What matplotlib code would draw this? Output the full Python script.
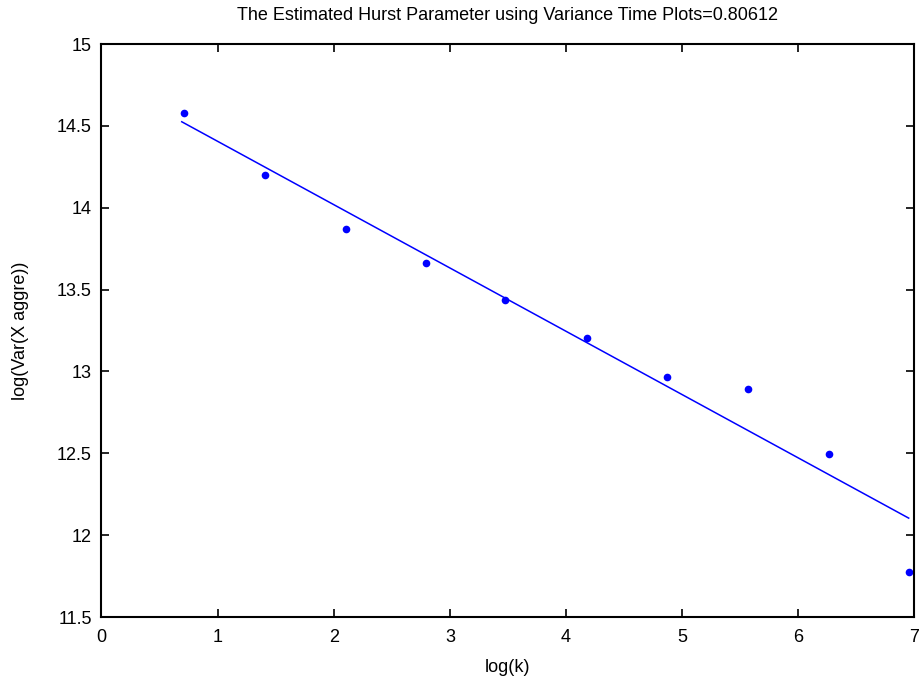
import numpy as np
import matplotlib
matplotlib.use("Agg")
import matplotlib.pyplot as plt

plt.rcParams['font.family'] = ['Liberation Sans', 'DejaVu Sans']

# data
log_k = [0.708, 1.406, 2.106, 2.798, 3.478, 4.176, 4.871, 5.569, 6.266, 6.955]
log_var = [14.578, 14.198, 13.872, 13.665, 13.438, 13.202, 12.968, 12.894, 12.494, 11.776]
fit_x = [0.691, 6.950]
fit_y = [14.525, 12.104]
x_ticks = [0, 1, 2, 3, 4, 5, 6, 7]
y_ticks = [11.5, 12, 12.5, 13, 13.5, 14, 14.5, 15]
y_tick_labels = ['11.5', '12', '12.5', '13', '13.5', '14', '14.5', '15']
title = 'The Estimated Hurst Parameter using Variance Time Plots=0.80612'

fig = plt.figure(figsize=(9.2, 6.77), dpi=100)
W, H = 920, 677
ax = fig.add_axes([101.5 / W, 1 - 617 / H, 813 / W, 573 / H])
ax.plot(log_k, log_var, 'o', color='#0000ff', markersize=5.5, markeredgewidth=0)
ax.plot(fit_x, fit_y, '-', color='#0000ff', linewidth=1.1)
ax.set_xlim(0, 7)
ax.set_ylim(11.5, 15)
ax.set_xticks(x_ticks)
ax.set_yticks(y_ticks)
ax.set_yticklabels(y_tick_labels)
ax.tick_params(direction='in', top=True, right=True, length=6, width=1.2,
               labelsize=13)
ax.tick_params(axis='x', pad=9)
ax.tick_params(axis='y', pad=7)
for s in ax.spines.values():
    s.set_linewidth(1.5)
ax.set_xlabel('log(k)', fontsize=13, labelpad=9)
ax.set_ylabel('log(Var(X aggre))', fontsize=13, labelpad=20)
ax.set_title(title, fontsize=13, pad=17)
fig.savefig('out.png', dpi=100)
